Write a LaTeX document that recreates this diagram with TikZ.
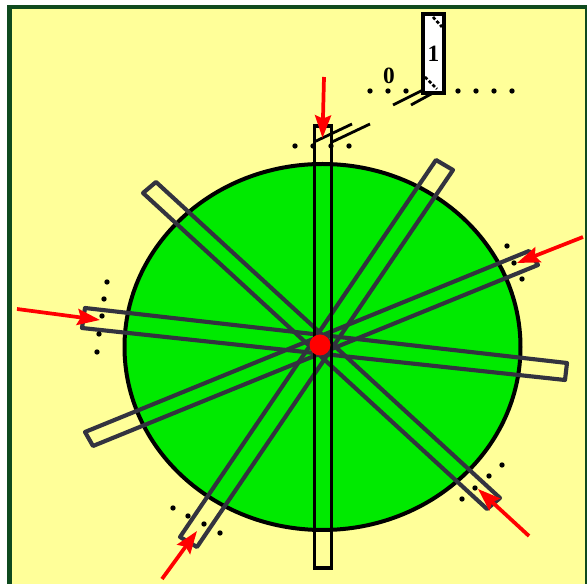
\documentclass[tikz,border=0pt]{standalone}
\usepackage{xcolor}
\usepackage{fontspec}
\setmainfont{Liberation Serif}
\usetikzlibrary{arrows.meta, positioning, calc}
\definecolor{paleyellow}{HTML}{FFFF99}
\definecolor{framegreen}{HTML}{0F4A1E}
\definecolor{discgreen}{HTML}{00EA00}
\definecolor{bardark}{HTML}{33333F}
\tikzset{
  slit/.style={draw=bardark, line width=3.1pt, line join=round},
  pointer/.style={draw=red, line width=2.8pt, -{Stealth[length=17pt, width=12pt, inset=2.5pt]}},
  guide/.style={draw=black, line width=2.1pt},
  tick/.style={circle, fill=black, inner sep=0pt, minimum size=4pt},
  digit/.style={font=\bfseries\fontsize{17.5}{20}\selectfont, inner sep=0pt}
}

\begin{document}
\begin{tikzpicture}[x=0.75pt, y=-0.75pt, >=Stealth]
  \useasboundingbox (0,0) rectangle (587,584);
  % background and frame
  \fill[white] (0,0) rectangle (587,584);
  \draw[draw=framegreen, fill=paleyellow, line width=3pt] (9.5,7) rectangle (586.5,590);
  \draw[draw=black, fill=discgreen, line width=3pt] (322.5,347) ellipse [x radius=198, y radius=183];

  % slits
  \draw[slit] (436,160) -- (453,170) -- (197,547) -- (180,537) -- cycle;
  \draw[slit] (529,251) -- (538,265) -- (93,446) -- (85,432) -- cycle;
  \draw[slit] (85,308) -- (567,363) -- (565,380) -- (82,328) -- cycle;
  \draw[slit] (156,182) -- (500,498) -- (487,509) -- (143,193) -- cycle;
  \draw[draw=black, line width=2.7pt] (314.5,126) rectangle (331.5,568);

  % dotted rows
  \foreach \x/\y in {295/146, 313/146, 331/146, 349/146,
                     370/91, 388/91, 406/91, 458/91, 476/91, 494/91, 512/91,
                     107/282, 104/299, 102/316, 99/334, 97/352,
                     173/508, 188/516, 204/524, 220/533,
                     502/465, 489/476, 475/488, 462/499,
                     507/246, 514/263, 522/279}
    \node[tick] at (\x,\y) {};

  % switch
  \node (zero) [digit] at (389,76) {0};
  \draw[guide] (314,142) -- (352,124);
  \draw[guide] (332,142) -- (370,124);
  \draw[guide] (393,105) -- (423,90);
  \draw[guide] (411,105) -- (433,93);
  \node (one) [draw=black, fill=white, line width=2.7pt, minimum width=15.8pt, minimum height=59.3pt,
    inner sep=0pt, outer sep=0pt] at (433.5,53.5) {};
  \node [digit] at (one.center) {1};
  \draw[black, line width=2pt, dash pattern=on 2.5pt off 1.5pt] (433,17) -- (442,27);
  \draw[black, line width=2pt, dash pattern=on 2.5pt off 1.5pt] (425,77) -- (437,89);

  % incoming rays
  \coordinate (topfrom) at (324,77);     \coordinate (topto) at (322.5,138);
  \coordinate (leftfrom) at (17,309);    \coordinate (leftto) at (100,320);
  \coordinate (swfrom) at (162,579);     \coordinate (swto) at (197,531);
  \coordinate (sefrom) at (529,536);     \coordinate (seto) at (478,489);
  \coordinate (efrom) at (583,237);      \coordinate (eto) at (517,263);
  \draw[pointer] (topfrom) -- (topto);
  \draw[pointer] (leftfrom) -- (leftto);
  \draw[pointer] (swfrom) -- (swto);
  \draw[pointer] (sefrom) -- (seto);
  \draw[pointer] (efrom) -- (eto);

  \fill[red] (320,345) circle [radius=10.5];
\end{tikzpicture}
\end{document}
